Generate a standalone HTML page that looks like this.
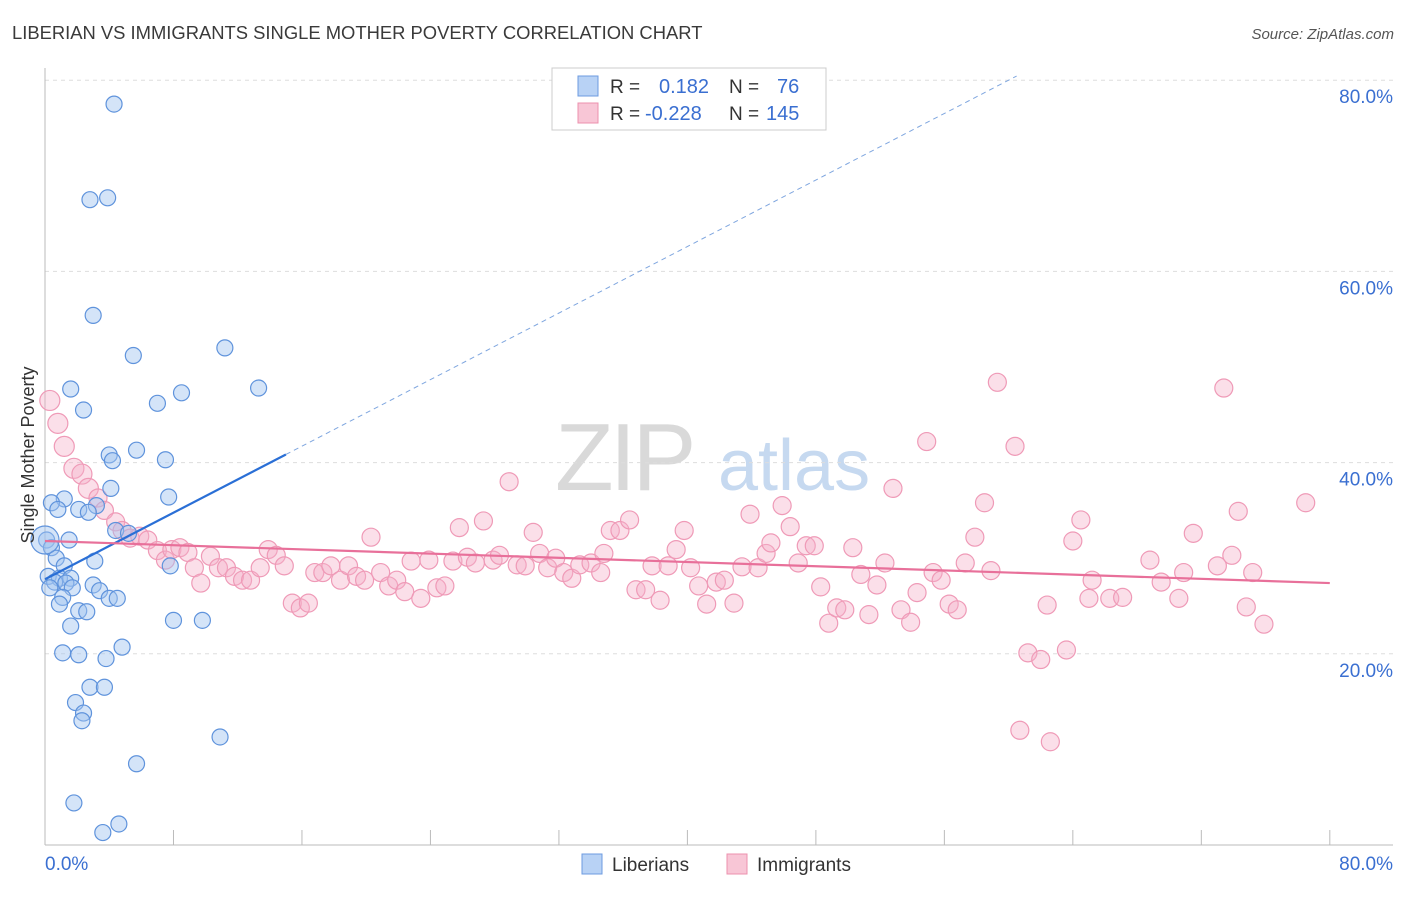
<!DOCTYPE html>
<html><head><meta charset="utf-8"><style>
body{margin:0;background:#fff;font-family:"Liberation Sans",sans-serif;}
svg text{font-family:"Liberation Sans",sans-serif;}
</style></head><body>
<svg id="chart" width="1406" height="892" xmlns="http://www.w3.org/2000/svg">
<text x="12" y="39" font-size="18.4" fill="#3a3a3a">LIBERIAN VS IMMIGRANTS SINGLE MOTHER POVERTY CORRELATION CHART</text>
<text x="1394" y="39" font-size="15" fill="#555" text-anchor="end" font-style="italic">Source: ZipAtlas.com</text>
<g>
<text x="555" y="490" font-size="96" fill="#d9d9d9" font-family="Liberation Serif" letter-spacing="-4">ZIP</text>
<text x="718" y="490" font-size="72" fill="#c6d9f0">atlas</text>
</g>
<g id="grid"></g>
<g id="axes"></g>
<g id="pts"></g>
<g id="trends"></g>
<g>
<rect x="552" y="68" width="274" height="62" fill="#fff" stroke="#ccc"/>
<rect x="578" y="76" width="20" height="20" fill="#b8d2f5" stroke="#6d9be0"/>
<rect x="578" y="103" width="20" height="20" fill="#f8c6d6" stroke="#ec90ae"/>
<text x="610" y="93" font-size="19" fill="#333">R =</text>
<text x="659" y="93" font-size="20" fill="#3a6fd1">0.182</text>
<text x="729" y="93" font-size="19" fill="#333">N =</text>
<text x="777" y="93" font-size="20" fill="#3a6fd1">76</text>
<text x="610" y="120" font-size="19" fill="#333">R =</text>
<text x="645" y="120" font-size="20" fill="#3a6fd1">-0.228</text>
<text x="729" y="120" font-size="19" fill="#333">N =</text>
<text x="766" y="120" font-size="20" fill="#3a6fd1">145</text>
</g>
<g>
<rect x="582" y="854" width="20" height="20" fill="#b8d2f5" stroke="#6d9be0"/>
<text x="612" y="871" font-size="19" fill="#333">Liberians</text>
<rect x="727" y="854" width="20" height="20" fill="#f8c6d6" stroke="#ec90ae"/>
<text x="757" y="871" font-size="19" fill="#333">Immigrants</text>
</g>
<text transform="translate(34,455) rotate(-90)" font-size="18" fill="#333" text-anchor="middle">Single Mother Poverty</text>
</svg>
<script>
const yTicks=[20,40,60,80];
const yTickLabels=["20.0%","40.0%","60.0%","80.0%"];
const xTicks=[0,8,16,24,32,40,48,56,64,72,80];
const blueX=[4.3,2.8,3.9,3.0,5.5,11.2,1.6,8.5,7.0,13.3,2.4,4.0,5.7,4.2,7.5,4.1,1.2,0.4,3.2,2.1,2.7,0.8,7.7,4.4,5.2,1.5,0.1,0.4,0.7,3.1,1.2,0.2,0.9,1.6,0.6,1.3,0.3,3.0,1.7,3.4,1.1,4.0,4.5,0.9,2.1,2.6,7.8,1.6,8.0,9.8,4.8,1.1,2.1,3.8,2.8,3.7,1.9,2.4,2.3,10.9,5.7,1.8,3.6,4.6];
const blueY=[77.5,67.5,67.7,55.4,51.2,52.0,47.7,47.3,46.2,47.8,45.5,40.8,41.3,40.2,40.3,37.3,36.2,35.8,35.5,35.1,34.8,35.1,36.4,32.9,32.6,31.9,31.9,31.1,30.0,29.7,29.2,28.1,27.9,27.9,27.5,27.4,26.9,27.2,26.9,26.6,25.9,25.8,25.8,25.2,24.5,24.4,29.2,22.9,23.5,23.5,20.7,20.1,19.9,19.5,16.5,16.5,14.9,13.8,13.0,11.3,8.5,4.4,1.3,2.2];
const pinkX=[0.3,0.8,1.2,1.8,2.3,2.7,3.3,3.7,4.4,4.8,5.3,5.9,6.4,7.0,7.5,7.9,8.4,8.9,9.3,9.7,10.3,10.8,11.3,11.8,12.3,12.8,13.4,13.9,14.4,14.9,15.4,15.9,16.4,16.8,17.3,17.8,18.4,18.9,19.4,19.9,20.3,20.9,21.4,21.9,22.4,22.8,23.4,23.9,24.4,24.9,25.4,25.8,26.3,26.8,27.3,27.9,28.3,28.9,29.4,29.9,30.4,30.8,31.3,31.8,32.3,32.8,33.3,34.0,34.6,34.8,35.2,35.8,36.4,36.8,37.4,37.8,38.3,38.8,39.3,39.8,40.2,40.7,41.2,41.8,42.3,42.9,43.4,43.9,44.4,44.9,45.2,45.9,46.4,46.9,47.4,47.9,48.3,48.8,49.3,49.8,50.3,50.8,51.3,51.8,52.3,52.8,53.3,53.9,54.3,54.9,55.3,55.8,56.3,56.8,57.3,57.9,58.5,58.9,59.3,60.4,61.2,62.0,62.4,62.6,60.7,63.6,64.0,64.5,65.2,65.0,66.3,67.1,68.8,69.5,70.6,70.9,71.5,73.0,73.4,73.9,74.3,74.8,75.2,75.9,78.5];
const pinkY=[46.5,44.1,41.7,39.4,38.8,37.3,36.3,35.0,33.8,32.9,32.1,32.3,31.9,30.8,29.8,30.9,31.1,30.6,29.0,27.4,30.2,29.0,29.0,28.1,27.7,27.7,29.0,30.9,30.3,29.2,25.3,24.8,25.3,28.5,28.5,29.2,27.7,29.2,28.1,27.7,32.2,28.5,27.1,27.7,26.5,29.7,25.8,29.8,26.9,27.1,29.7,33.2,30.1,29.5,33.9,29.8,30.3,38.0,29.3,29.2,32.7,30.5,29.0,30.0,28.5,27.9,29.3,29.5,28.5,30.5,32.9,32.9,34.0,26.7,26.7,29.2,25.6,29.2,30.9,32.9,29.0,27.1,25.2,27.5,27.7,25.3,29.1,34.6,29.0,30.5,31.6,35.5,33.3,29.5,31.3,31.3,27.0,23.2,24.8,24.6,31.1,28.3,24.1,27.2,29.5,37.3,24.6,23.3,26.4,42.2,28.5,27.7,25.2,24.6,29.5,32.2,35.8,28.7,48.4,41.7,20.1,19.4,25.1,10.8,12.0,20.4,31.8,34.0,27.7,25.8,25.8,25.9,29.8,27.5,25.8,28.5,32.6,29.2,47.8,30.3,34.9,24.9,28.5,23.1,35.8];
const blueTrend=[27.8,0.87];
const pinkTrend=[31.8,-0.055];
const NS="http://www.w3.org/2000/svg";
const X=v=>45+v*16.06, Y=v=>845-v*9.56;
function mk(tag,attrs,parent){const e=document.createElementNS(NS,tag);for(const k in attrs)e.setAttribute(k,attrs[k]);document.getElementById(parent).appendChild(e);return e;}
yTicks.forEach((t,i)=>{
 const g=mk('line',{x1:45,x2:1393,y1:Y(t),y2:Y(t),stroke:'#ddd','stroke-dasharray':'4,4'},'grid');
 
 
 const l=mk('text',{x:1393,y:Y(t)+23,'font-size':19,fill:'#3a6fd1','text-anchor':'end'},'grid');
 l.textContent=yTickLabels[i];
 
 
});
const xa=mk('line',{x1:45,x2:1393,y1:845,y2:845,stroke:'#bbb'},'axes');


const ya=mk('line',{x1:45,x2:45,y1:68,y2:845,stroke:'#bbb'},'axes');


xTicks.forEach(t=>{const k=mk('line',{x1:X(t),x2:X(t),y1:845,y2:830,stroke:'#bbb'},'axes');
 
 });
const x0=mk('text',{x:45,y:870,'font-size':19,fill:'#3a6fd1'},'axes');x0.textContent='0.0%';


const x1=mk('text',{x:1393,y:870,'font-size':19,fill:'#3a6fd1','text-anchor':'end'},'axes');x1.textContent='80.0%';


pinkX.forEach((v,i)=>{const c=mk('circle',{cx:X(v),cy:Y(pinkY[i]),r:i<6?10:9,fill:'rgba(246,176,200,0.4)',stroke:'#ef9ab7','stroke-width':1.2},'pts');
 
 });
blueX.forEach((v,i)=>{const c=mk('circle',{cx:X(v),cy:Y(blueY[i]),r:8,fill:'rgba(160,195,240,0.45)',stroke:'#5f93dc','stroke-width':1.2},'pts');
 
 });
const big=mk('circle',{cx:X(0),cy:Y(31.9),r:14,fill:'rgba(160,195,240,0.45)',stroke:'#5f93dc','stroke-width':1.2},'pts');


const bt=v=>blueTrend[0]+blueTrend[1]*v;
const b1=mk('line',{x1:X(0),y1:Y(bt(0)),x2:X(15),y2:Y(bt(15)),stroke:'#2a6fd6','stroke-width':2.2},'trends');


const b2=mk('line',{x1:X(15),y1:Y(bt(15)),x2:X(60.5),y2:Y(bt(60.5)),stroke:'#7fa6df','stroke-width':1,'stroke-dasharray':'5,4'},'trends');


const pt=v=>pinkTrend[0]+pinkTrend[1]*v;
const p1=mk('line',{x1:X(0),y1:Y(pt(0)),x2:X(80),y2:Y(pt(80)),stroke:'#e8709a','stroke-width':2.2},'trends');


</script>
</body></html>
